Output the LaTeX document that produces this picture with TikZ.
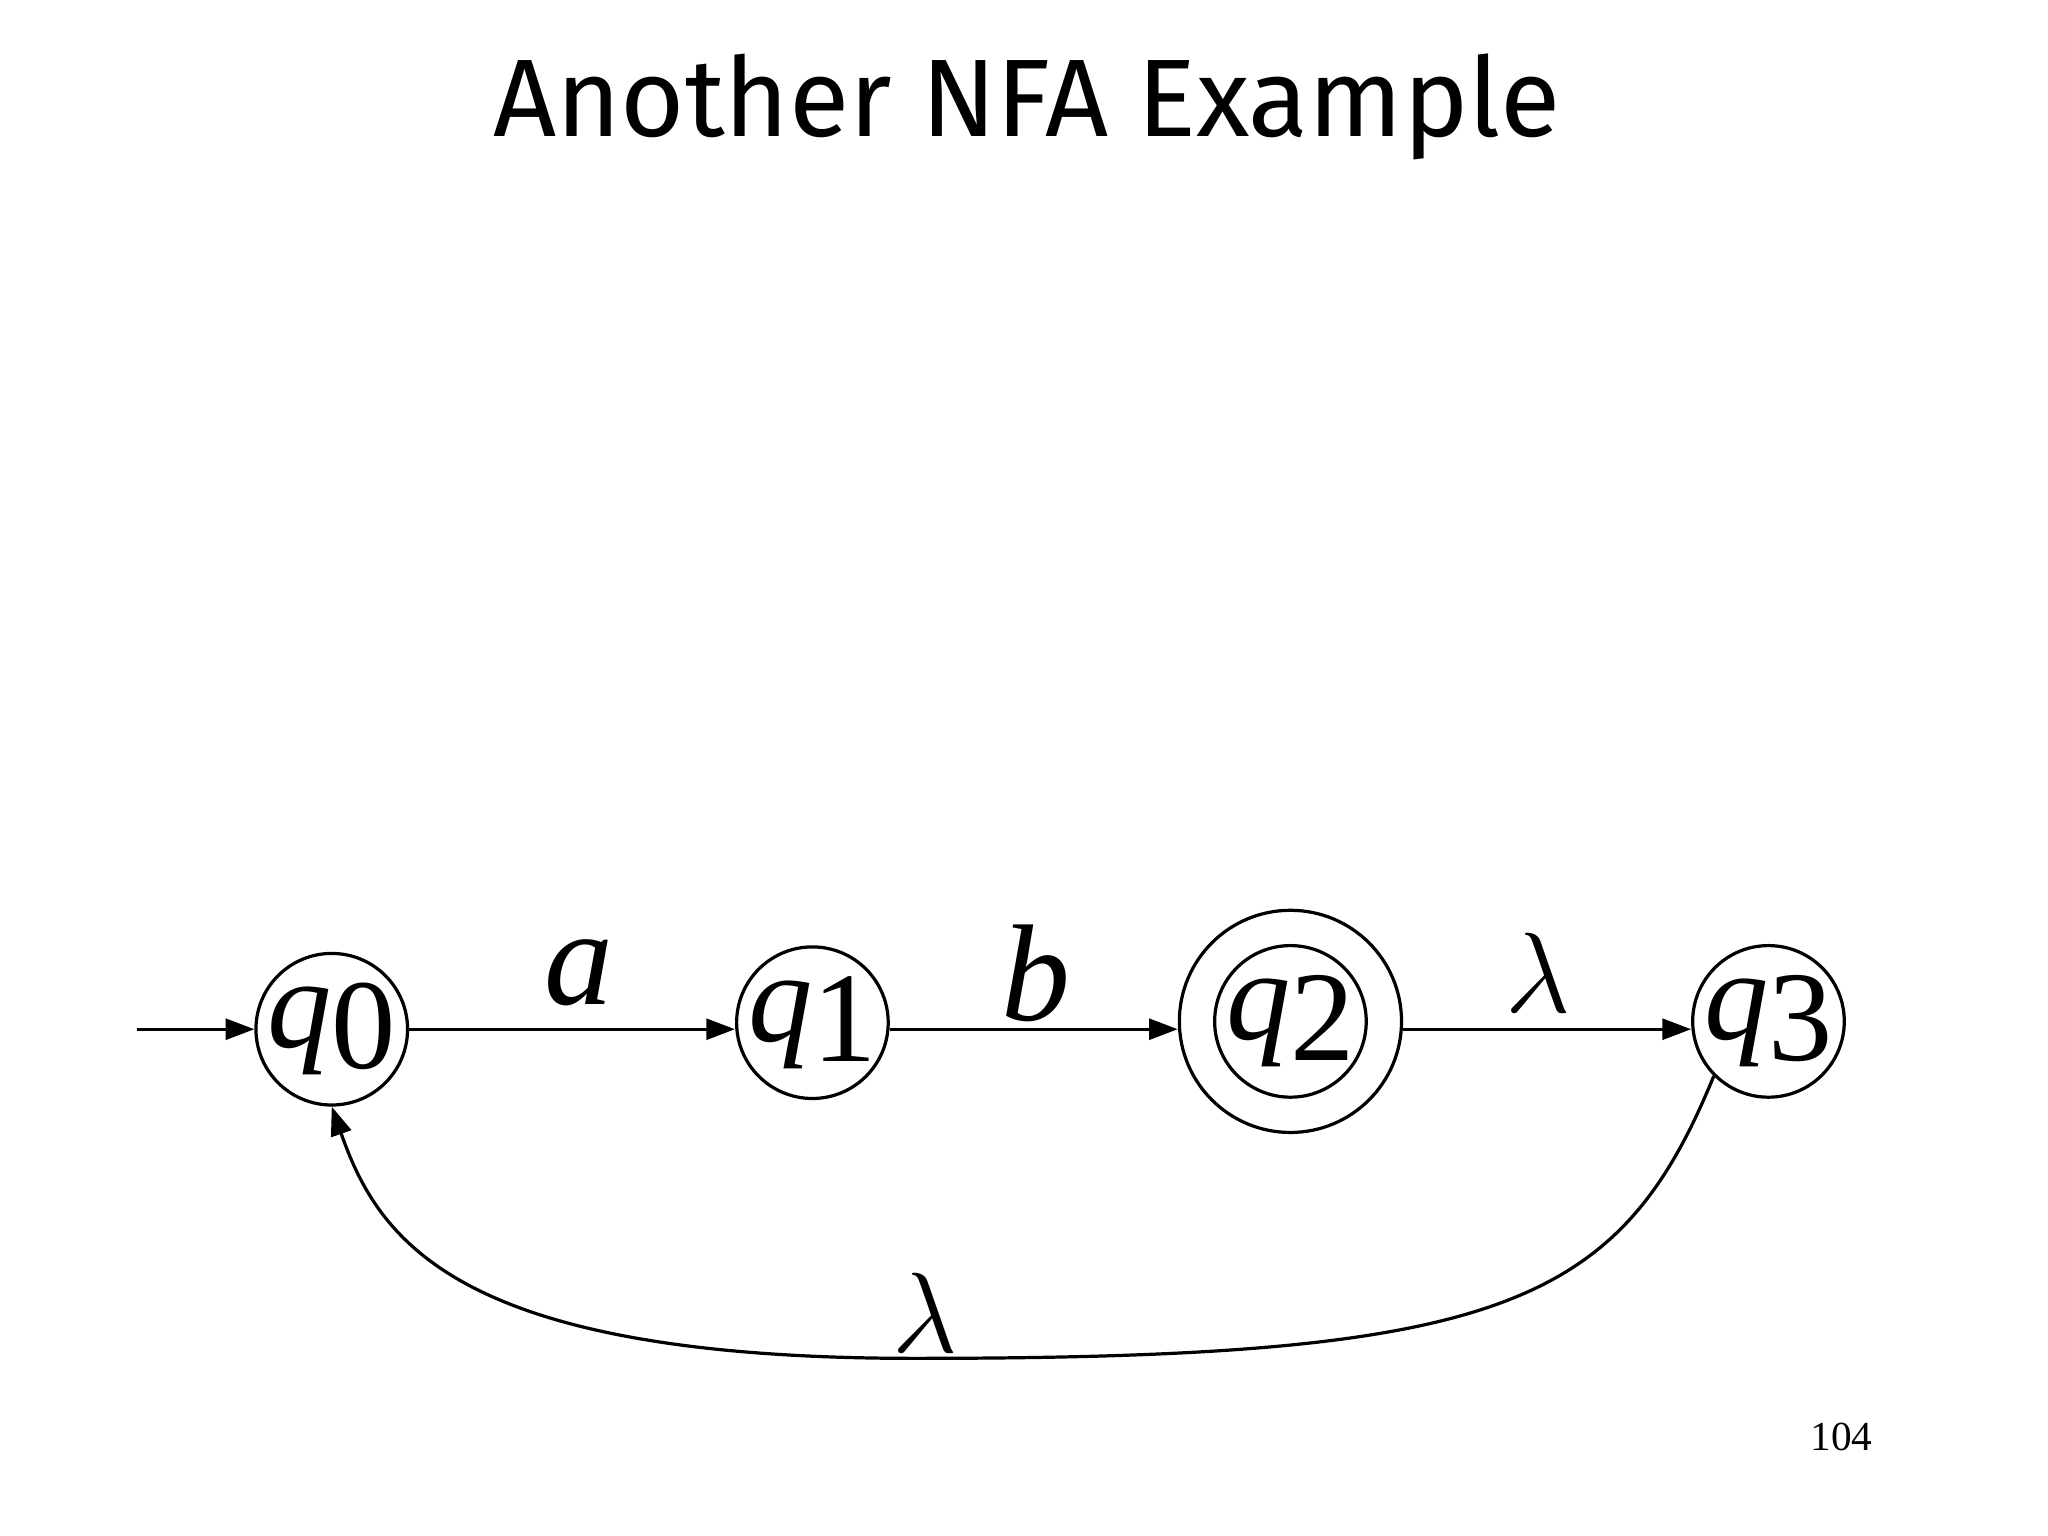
\documentclass[tikz,border=0pt]{standalone}
\usepackage{fontspec}
\setmainfont{Liberation Serif}
\newfontfamily\titlefont{Fira Sans}
\usetikzlibrary{arrows.meta}
\begin{document}
\begin{tikzpicture}[x=0.01cm,y=-0.01cm,
  st/.style={circle,draw,line width=0.7pt,minimum size=1.16cm,inner sep=0pt},
  edge/.style={line width=0.7pt,-{Triangle[length=0.22cm,width=0.16cm]}},
  lbl/.style={font=\fontsize{30}{34}\selectfont\itshape},
  lam/.style={font=\fontsize{36}{40}\selectfont},
  slbl/.style={font=\fontsize{28}{32}\selectfont}]
\useasboundingbox (0,0) rectangle (1568,1176);
\node[font=\titlefont\fontsize{24}{28}\selectfont] (title) at (786,82) {Another NFA Example};
\node[st] (q0) at (254,788) {};
\node[slbl] at (q0) {\textit{q}\raisebox{-0.35ex}{0}};
\node[st] (q1) at (622,783) {};
\node[slbl] at (q1) {\textit{q}\raisebox{-0.35ex}{1}};
\node[st,minimum size=1.7cm] (q2) at (988,782) {};
\node[st] (q2i) at (q2) {};
\node[slbl] at (q2) {\textit{q}\raisebox{-0.35ex}{2}};
\node[st] (q3) at (1354,782) {};
\node[slbl] at (q3) {\textit{q}\raisebox{-0.35ex}{3}};
\coordinate (start) at (105,788);
\draw[edge] (start) -- (q0.west);
\draw[edge] (q0.east |- 0,788) -- (q1.west |- 0,788);
\draw[edge] (q1.east |- 0,788) -- (q2.west |- 0,788);
\draw[edge] (q2.east |- 0,788) -- (q3.west |- 0,788);
\node[lbl] (la) at (443,745) {a};
\node[lbl] (lb) at (793,745) {b};
\node[lam] (ll1) at (1178,745) {$\lambda$};
\draw[edge] (q3.south west) .. controls (1240,1000) and (1150,1040) .. (700,1040)
  .. controls (350,1040) and (290,950) .. (q0.south);
\node[lam] (ll2) at (708,1005) {$\lambda$};
\node[font=\fontsize{9}{11}\selectfont] (pg) at (1410,1100) {104};
\end{tikzpicture}
\end{document}
